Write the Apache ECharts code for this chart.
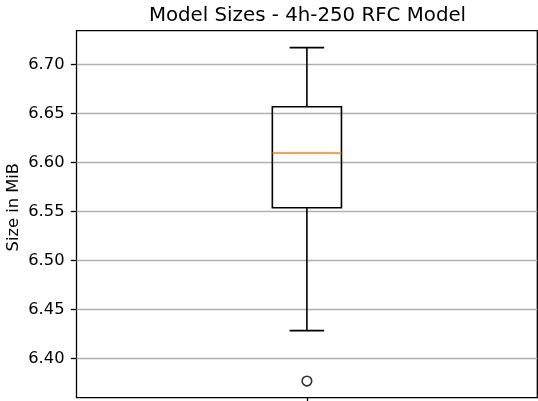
<!DOCTYPE html>
<html>
<head>
<meta charset="utf-8">
<script src="https://cdn.jsdelivr.net/npm/echarts@6/dist/echarts.min.js"></script>
<style>html,body{margin:0;padding:0;background:#fff;}#chart{width:538px;height:401px;}</style>
</head>
<body>
<div id="chart"></div>
<script>
const categories = ['1'];
const whiskerLow = [6.4282];
const q1 = [6.5537];
const median = [6.6095];
const q3 = [6.6567];
const whiskerHigh = [6.7170];
const outlierCat = [0];
const outlierVal = [6.3768];
const yTicks = [6.40, 6.45, 6.50, 6.55, 6.60, 6.65, 6.70];
const yMin = 6.3598, yMax = 6.7343;

const FONT = 'DejaVu Sans';
const boxData = categories.map((c, i) => [i, whiskerLow[i], q1[i], median[i], q3[i], whiskerHigh[i]]);
const outlierData = outlierCat.map((c, i) => [c, outlierVal[i]]);

const chart = echarts.init(document.getElementById('chart'), null, {renderer: 'canvas'});
chart.setOption({
  animation: false,
  backgroundColor: '#fff',
  title: {
    text: 'Model Sizes - 4h-250 RFC Model',
    left: 302.5, top: 1, textAlign: 'center',
    textStyle: {fontFamily: FONT, fontSize: 19.8, fontWeight: 'normal', color: '#000'}
  },
  grid: {
    left: 76.5, right: 0.7, top: 30.7, bottom: 3.3,
    show: true, borderColor: '#000', borderWidth: 1.3, backgroundColor: 'transparent',
    containLabel: false, outerBoundsMode: 'none'
  },
  xAxis: {
    type: 'category', data: categories, boundaryGap: true,
    axisLine: {show: false},
    axisTick: {show: true, alignWithLabel: true, length: 5.6, lineStyle: {color: '#000', width: 1.3}},
    axisLabel: {show: false},
    splitLine: {show: false}
  },
  yAxis: {
    type: 'value', min: yMin, max: yMax,
    name: 'Size in MiB', nameLocation: 'middle', nameGap: 55, nameMoveOverlap: false,
    nameTextStyle: {fontFamily: FONT, fontSize: 16.3, color: '#000', lineHeight: 16, padding: [0, 0, 0, 14]},
    axisLine: {show: false},
    axisTick: {show: true, length: 5.6, customValues: yTicks, lineStyle: {color: '#000', width: 1.3}},
    axisLabel: {customValues: yTicks, margin: 12, fontFamily: FONT, fontSize: 16.3, color: '#000',
      formatter: v => v.toFixed(2)},
    splitLine: {show: true, customValues: yTicks, lineStyle: {color: '#b0b0b0', width: 1.3}}
  },
  series: [
    {
      type: 'custom',
      data: boxData,
      encode: {x: 0, y: [1, 2, 3, 4, 5]},
      z: 5,
      renderItem: function (params, api) {
        const xi = api.value(0);
        const band = api.size([1, 0])[0];
        const half = band * 0.15 / 2;
        const capHalf = half / 2;
        const pLow = api.coord([xi, api.value(1)]);
        const pQ1 = api.coord([xi, api.value(2)]);
        const pMed = api.coord([xi, api.value(3)]);
        const pQ3 = api.coord([xi, api.value(4)]);
        const pHigh = api.coord([xi, api.value(5)]);
        const cx = pMed[0];
        const st = {stroke: '#000', lineWidth: 1.6, fill: null};
        return {
          type: 'group',
          children: [
            {type: 'line', shape: {x1: cx, y1: pQ1[1], x2: cx, y2: pLow[1]}, style: st},
            {type: 'line', shape: {x1: cx, y1: pQ3[1], x2: cx, y2: pHigh[1]}, style: st},
            {type: 'line', shape: {x1: cx - capHalf, y1: pLow[1], x2: cx + capHalf, y2: pLow[1]}, style: st},
            {type: 'line', shape: {x1: cx - capHalf, y1: pHigh[1], x2: cx + capHalf, y2: pHigh[1]}, style: st},
            {type: 'rect', shape: {x: cx - half, y: pQ3[1], width: 2 * half, height: pQ1[1] - pQ3[1]}, style: st},
            {type: 'line', shape: {x1: cx - half, y1: pMed[1], x2: cx + half, y2: pMed[1]}, style: {stroke: '#ff7f0e', lineWidth: 1.6}}
          ]
        };
      }
    },
    {
      type: 'scatter',
      data: outlierData,
      symbol: 'circle', symbolSize: 9.6,
      z: 6,
      itemStyle: {color: '#fff', borderColor: '#000', borderWidth: 1.6}
    }
  ]
});
</script>
</body>
</html>
